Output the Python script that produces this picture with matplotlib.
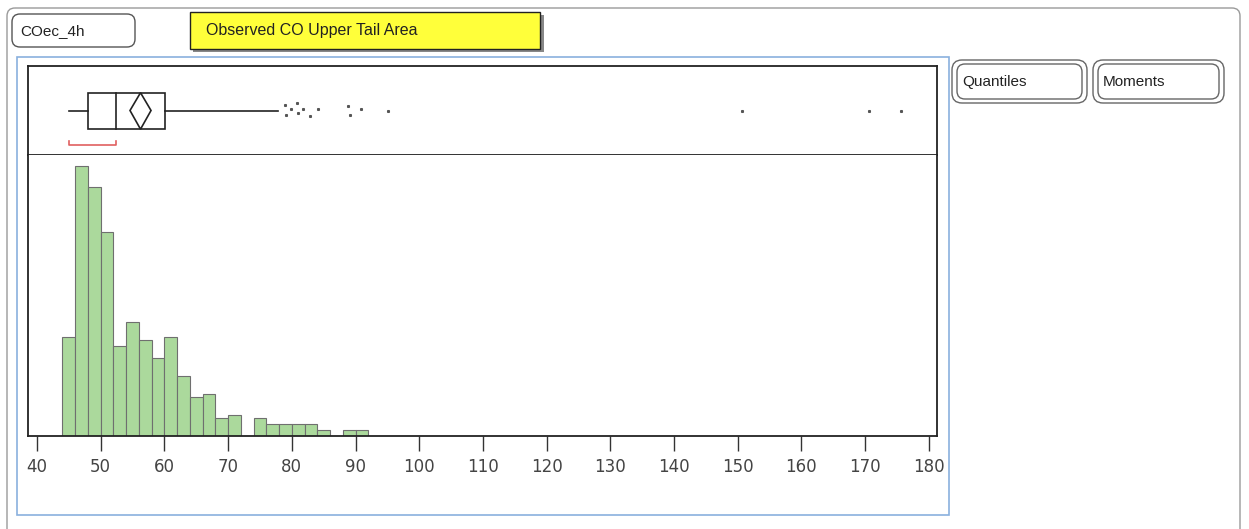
import numpy as np
import matplotlib.pyplot as plt
from matplotlib.patches import FancyBboxPatch, Rectangle, Polygon

W, H = 1249, 529

# histogram data (bin left edges, bin width 2, counts)
bin_left = [44, 46, 48, 50, 52, 54, 56, 58, 60, 62, 64, 66, 68, 70, 72,
            74, 76, 78, 80, 82, 84, 86, 88, 90]
counts = [33, 90, 83, 68, 30, 38, 32, 26, 33, 20, 13, 14, 6, 7, 0,
          6, 4, 4, 4, 4, 2, 0, 2, 2]

# box plot summary
whisk_lo, q1, med, q3, whisk_hi = 45.1, 48.0, 52.4, 60.1, 77.9
mean_lo, mean_hi = 54.6, 57.9
short_lo, short_hi = 45.1, 52.4
outliers = [78.9, 79.1, 79.8, 80.8, 81.0, 81.7, 82.9, 84.1, 88.9, 89.1, 90.8, 95.1, 150.7, 170.6, 175.6]
out_y = [0.56, 0.45, 0.52, 0.58, 0.47, 0.52, 0.44, 0.52, 0.55, 0.45, 0.52, 0.50, 0.50, 0.50, 0.50]
xticks = list(range(40, 181, 10))


def fx(px):
    return px / W


def fy(py):
    return 1 - py / H


def pbox(x0, y0, x1, y1):
    return [fx(x0), fy(y1), (x1 - x0) / W, (y1 - y0) / H]


fig = plt.figure(figsize=(W / 100, H / 100), dpi=100)
plt.rcParams['font.family'] = ['Liberation Sans', 'DejaVu Sans']

# outer frame and buttons (drawn in pixel space on a full-figure axes)
bg = fig.add_axes([0, 0, 1, 1])
bg.set_xlim(0, W)
bg.set_ylim(H, 0)
bg.axis('off')

bg.add_patch(FancyBboxPatch((7, 8), 1233, 540, boxstyle='round,pad=0,rounding_size=8',
                            fill=False, ec='#9a9a9a', lw=1.0))
bg.add_patch(FancyBboxPatch((12, 14), 123, 33, boxstyle='round,pad=0,rounding_size=8',
                            fill=False, ec='#555555', lw=1.0))
bg.text(20, 31, 'COec_4h', fontsize=11, va='center', ha='left', color='#222222')

# yellow title box with shadow
bg.add_patch(Rectangle((193, 15), 351, 37, fc='#888888', ec='none'))
bg.add_patch(Rectangle((190, 12), 350, 37, fc='#ffff3a', ec='#222222', lw=1.0))
bg.text(206, 30, 'Observed CO Upper Tail Area', fontsize=11.5, va='center', ha='left', color='#222222')

# light blue report frame
bg.add_patch(Rectangle((17, 57), 932, 458, fill=False, ec='#8ab0de', lw=1.2))

# Quantiles / Moments buttons with double outline
for x0, w, lab in [(952, 135, 'Quantiles'), (1093, 131, 'Moments')]:
    bg.add_patch(FancyBboxPatch((x0, 60), w, 43, boxstyle='round,pad=0,rounding_size=10',
                                fill=False, ec='#666666', lw=1.0))
    bg.add_patch(FancyBboxPatch((x0 + 5, 64), w - 10, 35, boxstyle='round,pad=0,rounding_size=8',
                                fill=False, ec='#666666', lw=1.0))
    bg.text(x0 + 10, 82, lab, fontsize=11, va='center', ha='left', color='#222222')

xlim = (40 - 9 / 6.37, 40 + 900 / 6.37)

# box plot panel
axb = fig.add_axes(pbox(28, 66, 937, 155))
axb.set_xlim(xlim)
axb.set_ylim(0, 1)
axb.set_xticks([])
axb.set_yticks([])
for s in axb.spines.values():
    s.set_color('#222222')
    s.set_linewidth(1.3)
b0, b1 = 0.29, 0.70
axb.plot([whisk_lo, q1], [0.5, 0.5], color='#222222', lw=1.2)
axb.plot([q3, whisk_hi], [0.5, 0.5], color='#222222', lw=1.2)
axb.add_patch(Rectangle((q1, b0), q3 - q1, b1 - b0, fill=False, ec='#222222', lw=1.2))
axb.plot([med, med], [b0, b1], color='#222222', lw=1.2)
mm = (mean_lo + mean_hi) / 2
axb.add_patch(Polygon([[mean_lo, 0.5], [mm, b1], [mean_hi, 0.5], [mm, b0]],
                      closed=True, fill=False, ec='#222222', lw=1.2))
axb.plot([short_lo, short_lo, short_hi, short_hi], [0.16, 0.11, 0.11, 0.16], color='#e06060', lw=1.2)
axb.plot(outliers, out_y, 's', color='#555555', ms=1.2, ls='none')

# histogram panel
axh = fig.add_axes(pbox(28, 155, 937, 436))
axh.bar(bin_left, counts, width=2, align='edge', color='#abd99c', edgecolor='#6f6f6f', linewidth=0.8)
axh.set_xlim(xlim)
axh.set_ylim(0, 281 / 3)
axh.set_yticks([])
axh.set_xticks(xticks)
axh.tick_params(axis='x', length=11, width=1.0, color='#333333', labelsize=12,
                labelcolor='#444444', pad=5)
for lab in axh.get_xticklabels():
    lab.set_family('DejaVu Sans')
for s in axh.spines.values():
    s.set_color('#222222')
    s.set_linewidth(1.3)
axh.spines['top'].set_visible(False)

fig.savefig('out.png', dpi=100)
